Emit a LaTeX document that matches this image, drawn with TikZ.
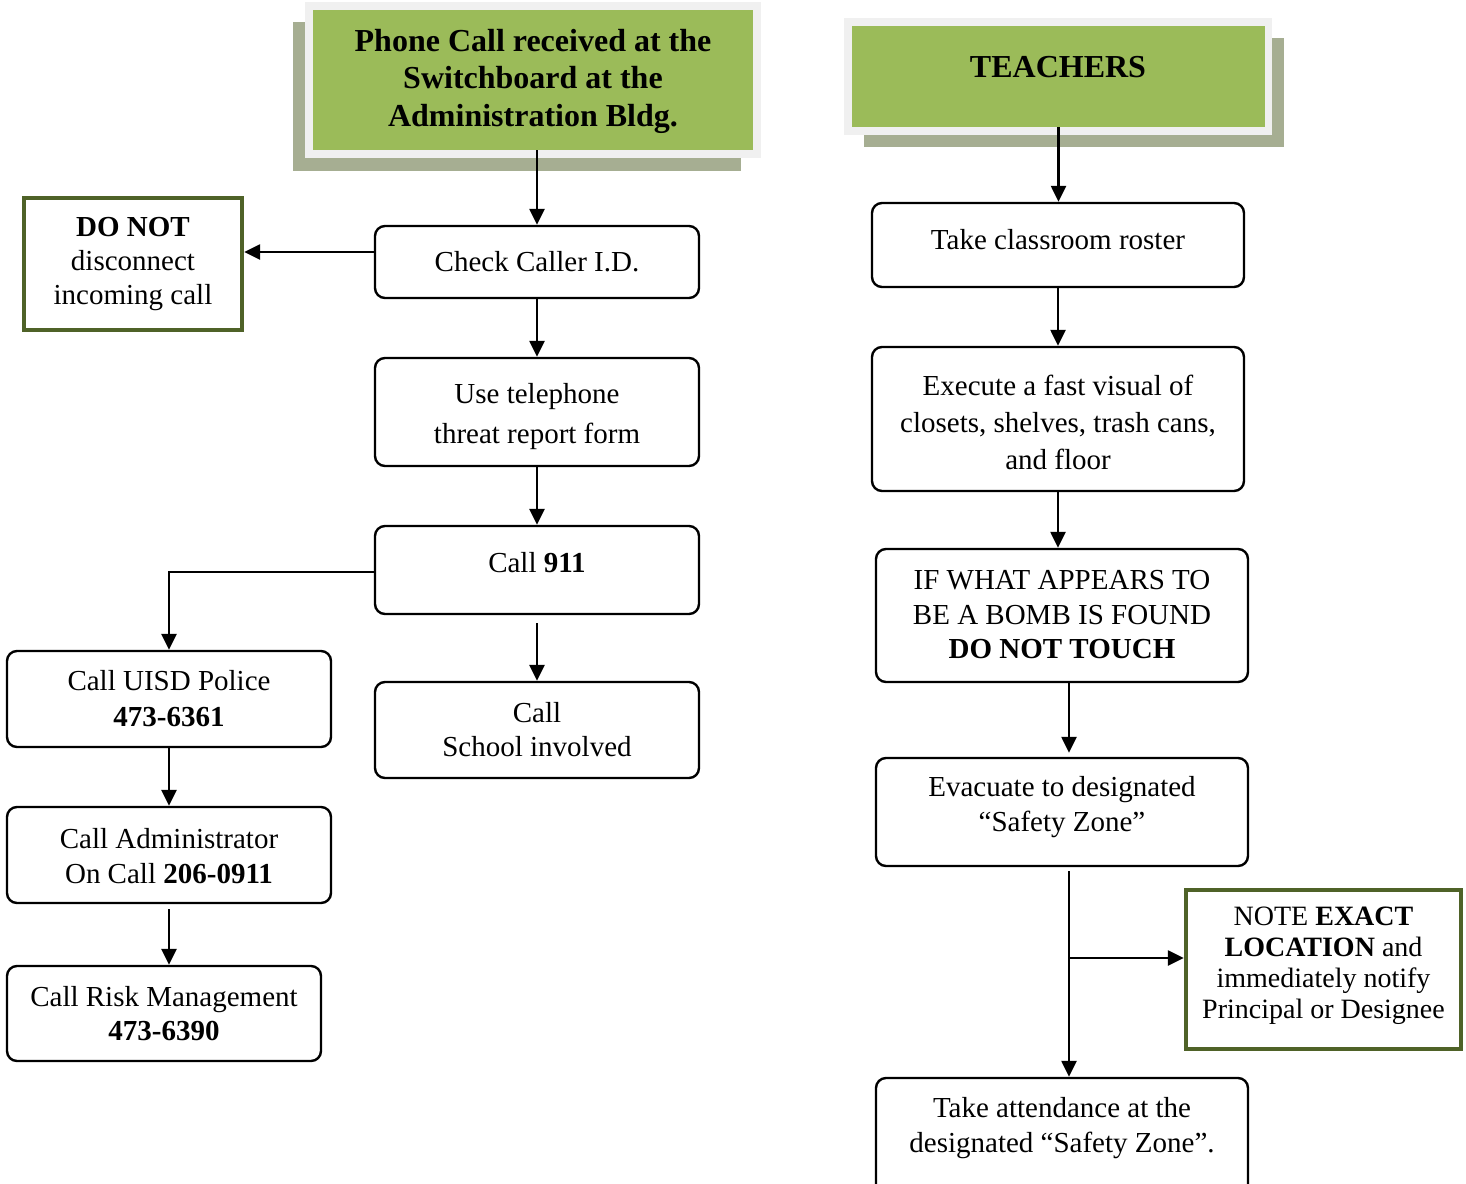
\documentclass[tikz,border=0pt]{standalone}
\usepackage{fontspec}
\setmainfont{Liberation Serif}
\usetikzlibrary{arrows.meta}
\definecolor{leaf}{HTML}{9BBB59}
\definecolor{olive}{HTML}{4F6228}
\definecolor{dropc}{HTML}{A6AE92}
\definecolor{rimc}{HTML}{F0F0F0}
\begin{document}
\begin{tikzpicture}[x=0.5pt,y=-0.5pt,
  stepbox/.style={draw=black, line width=1.2pt, rounded corners=5pt, fill=white, inner sep=0},
  notebox/.style={draw=olive, line width=2.2pt, fill=white, inner sep=0},
  headbox/.style={fill=leaf, inner sep=0},
  txt/.style={align=center, inner sep=0, font=\fontsize{14.5}{17}\selectfont},
  headtxt/.style={align=center, inner sep=0, font=\fontsize{16}{18.75}\selectfont\bfseries},
  arr/.style={line width=1.25pt, -{Triangle[length=8pt,width=7.5pt]}}]
\useasboundingbox (0,0) rectangle (1466,1183);
\clip (0,0) rectangle (1466,1183);

% ---- switchboard header ----
\fill[dropc] (293,22) rectangle (741,171);
\fill[rimc] (305,2) rectangle (761,158);
\node[headbox, minimum width=220pt, minimum height=70pt] (hdL) at (533,80) {};
\node[headtxt] (hdLt) at (533,81) {Phone Call received at the\\Switchboard at the\\Administration Bldg.};

% ---- teachers header ----
\fill[dropc] (864,38) rectangle (1284,147);
\fill[rimc] (844,18) rectangle (1272,135);
\node[headbox, minimum width=206.5pt, minimum height=50.5pt] (hdR) at (1058.5,76.5) {};
\node[headtxt] (hdRt) at (1058,67) {TEACHERS};

% ---- switchboard steps ----
\node[stepbox, minimum width=162pt, minimum height=36pt] (chk) at (537,262) {};
\node[txt] (chkT) at (537,262) {Check Caller I.D.};

\node[notebox, minimum width=109pt, minimum height=66pt] (keep) at (133,264) {};
\node[txt] (keepT) at (133,264) {\textbf{DO NOT}\\disconnect\\incoming call};

\node[stepbox, minimum width=162pt, minimum height=54pt] (use) at (537,412) {};
\node[txt, font=\fontsize{14.5}{20}\selectfont] (useT) at (537,417) {Use telephone\\threat report form};

\node[stepbox, minimum width=162pt, minimum height=44pt] (nine) at (537,570) {};
\node[txt] (nineT) at (537,563) {Call \textbf{911}};

\node[stepbox, minimum width=162pt, minimum height=48pt] (school) at (537,730) {};
\node[txt] (schoolT) at (537,730) {Call\\School involved};

\node[stepbox, minimum width=162pt, minimum height=48pt] (police) at (169,699) {};
\node[txt, font=\fontsize{14.5}{18}\selectfont] (policeT) at (169,699) {Call UISD Police\\\textbf{473-6361}};

\node[stepbox, minimum width=162pt, minimum height=48pt] (admin) at (169,855) {};
\node[txt, font=\fontsize{14.5}{17.5}\selectfont] (adminT) at (169,856) {Call Administrator\\On Call \textbf{206-0911}};

\node[stepbox, minimum width=157pt, minimum height=47.5pt] (risk) at (164,1013.5) {};
\node[txt] (riskT) at (164,1014) {Call Risk Management\\\textbf{473-6390}};

% ---- teacher steps ----
\node[stepbox, minimum width=186pt, minimum height=42pt] (roster) at (1058,245) {};
\node[txt] (rosterT) at (1058,240) {Take classroom roster};

\node[stepbox, minimum width=186pt, minimum height=72pt] (exec) at (1058,419) {};
\node[txt, font=\fontsize{14.5}{18.5}\selectfont] (execT) at (1058,422) {Execute a fast visual of\\closets, shelves, trash cans,\\and floor};

\node[stepbox, minimum width=186pt, minimum height=66.5pt] (bomb) at (1062,615.5) {};
\node[txt, font=\fontsize{14.5}{17.25}\selectfont] (bombT) at (1062,615) {IF WHAT APPEARS TO\\BE A BOMB IS FOUND\\\textbf{DO NOT TOUCH}};

\node[stepbox, minimum width=186pt, minimum height=54pt] (evac) at (1062,812) {};
\node[txt, font=\fontsize{14.5}{17.5}\selectfont] (evacT) at (1062,807) {Evacuate to designated\\“Safety Zone”};

\node[notebox, minimum width=137.5pt, minimum height=79.5pt] (note) at (1323.5,969.5) {};
\node[txt, font=\fontsize{14}{15.5}\selectfont] (noteT) at (1323.5,966) {NOTE \textbf{EXACT}\\\textbf{LOCATION} and\\immediately notify\\Principal or Designee};

\node[stepbox, minimum width=186pt, minimum height=65pt] (attend) at (1062,1143) {};
\node[txt, font=\fontsize{14.5}{17.5}\selectfont] (attendT) at (1062,1128) {Take attendance at the\\designated “Safety Zone”.};

% ---- connectors, switchboard side ----
\draw[arr] (hdL.south -| chk.north) -- (chk.north);
\draw[arr] ([yshift=5pt]chk.west) -- ([yshift=5pt]chk.west -| keep.east);
\draw[arr] (chk.south) -- (use.north);
\draw[arr] (use.south) -- (nine.north);
\draw[arr] ([yshift=-4pt]nine.south) -- (school.north);
\draw[arr] ([yshift=-1pt]nine.west) -| (police.north);
\draw[arr] (police.south) -- (admin.north);
\draw[arr] ([yshift=-2.5pt]admin.south) -- (admin.south |- risk.north);

% ---- connectors, teacher side ----
\draw[arr] (hdR.south) -- (hdR.south |- roster.north);
\draw[arr] (roster.south) -- (exec.north);
\draw[arr] (exec.south) -- (exec.south |- bomb.north);
\draw[arr] ([xshift=3.5pt]bomb.south) -- ([xshift=3.5pt,yshift=2pt]bomb.south |- evac.north);
\draw[arr] ([xshift=3.5pt,yshift=-2pt]evac.south) -- ([xshift=3.5pt]evac.south |- attend.north);
\coordinate (fork) at (1069,958);
\draw[arr] (fork) -- (fork -| note.west);
\end{tikzpicture}
\end{document}
